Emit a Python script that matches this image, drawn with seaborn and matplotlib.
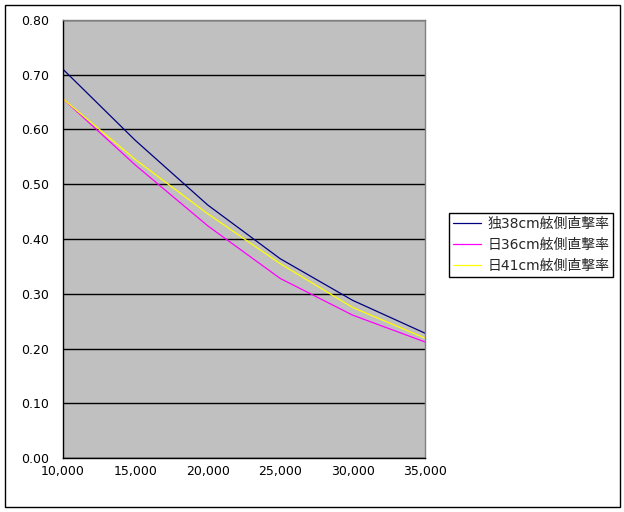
import matplotlib
matplotlib.use("Agg")
import matplotlib.pyplot as plt
import seaborn as sns
import pandas as pd
from matplotlib.patches import Rectangle
from matplotlib.ticker import FuncFormatter, MultipleLocator

distance = [10000, 15000, 20000, 25000, 30000, 35000]
ger38 = [0.71, 0.58, 0.462, 0.364, 0.288, 0.228]
jpn36 = [0.656, 0.535, 0.424, 0.328, 0.261, 0.212]
jpn41 = [0.656, 0.545, 0.446, 0.355, 0.275, 0.219]
series_names = ["独38cm舷側直撃率", "日36cm舷側直撃率", "日41cm舷側直撃率"]
series_colors = ["#000080", "#FF00FF", "#FFFF00"]

df = pd.concat([
    pd.DataFrame({"distance": distance, "rate": vals, "series": name})
    for name, vals in zip(series_names, [ger38, jpn36, jpn41])
])

sns.set_theme(style="white")
plt.rcParams["font.family"] = ["DejaVu Sans", "Noto Sans CJK JP"]

fig = plt.figure(figsize=(6.24, 5.12), dpi=100)
ax = fig.add_axes([63/624, 1-458/512, (425-63)/624, (458-20)/512])
ax.set_facecolor("#C0C0C0")

sns.lineplot(data=df, x="distance", y="rate", hue="series",
             palette=dict(zip(series_names, series_colors)),
             hue_order=series_names, linewidth=0.9, ax=ax, legend=True)

ax.set_xlim(10000, 35000)
ax.set_ylim(0, 0.8)
ax.xaxis.set_major_locator(MultipleLocator(5000))
ax.yaxis.set_major_locator(MultipleLocator(0.1))
ax.xaxis.set_major_formatter(FuncFormatter(lambda v, p: f"{int(v):,}"))
ax.yaxis.set_major_formatter(FuncFormatter(lambda v, p: f"{v:.2f}"))
ax.set_xlabel("")
ax.set_ylabel("")
ax.grid(axis="y", color="black", linewidth=1.0)
ax.set_axisbelow(True)
ax.tick_params(axis="x", direction="in", length=4, width=1, color="black",
               labelsize=9, pad=5, labelcolor="black")
ax.tick_params(axis="y", length=0, labelsize=9, pad=10, labelcolor="black")
for s in ["left", "bottom"]:
    ax.spines[s].set_color("black")
    ax.spines[s].set_linewidth(1.0)
for s in ["right", "top"]:
    ax.spines[s].set_color("#808080")
    ax.spines[s].set_linewidth(1.0)

leg = ax.legend(loc="upper left", bbox_to_anchor=(449/624, 1-213/512),
                bbox_transform=fig.transFigure, frameon=True, fancybox=False,
                fontsize=10, handlelength=2.0, handletextpad=0.45,
                borderpad=0.3, labelspacing=0.48, borderaxespad=0)
leg.get_frame().set_edgecolor("black")
leg.get_frame().set_linewidth(1.0)
leg.get_frame().set_facecolor("white")
leg.get_frame().set_alpha(1)

fig.patches.append(Rectangle((5/624, 1-507/512), (620-5)/624, (507-5)/512,
                             transform=fig.transFigure, fill=False,
                             edgecolor="black", linewidth=1.0))

fig.savefig("out.png", dpi=100, facecolor="white")
